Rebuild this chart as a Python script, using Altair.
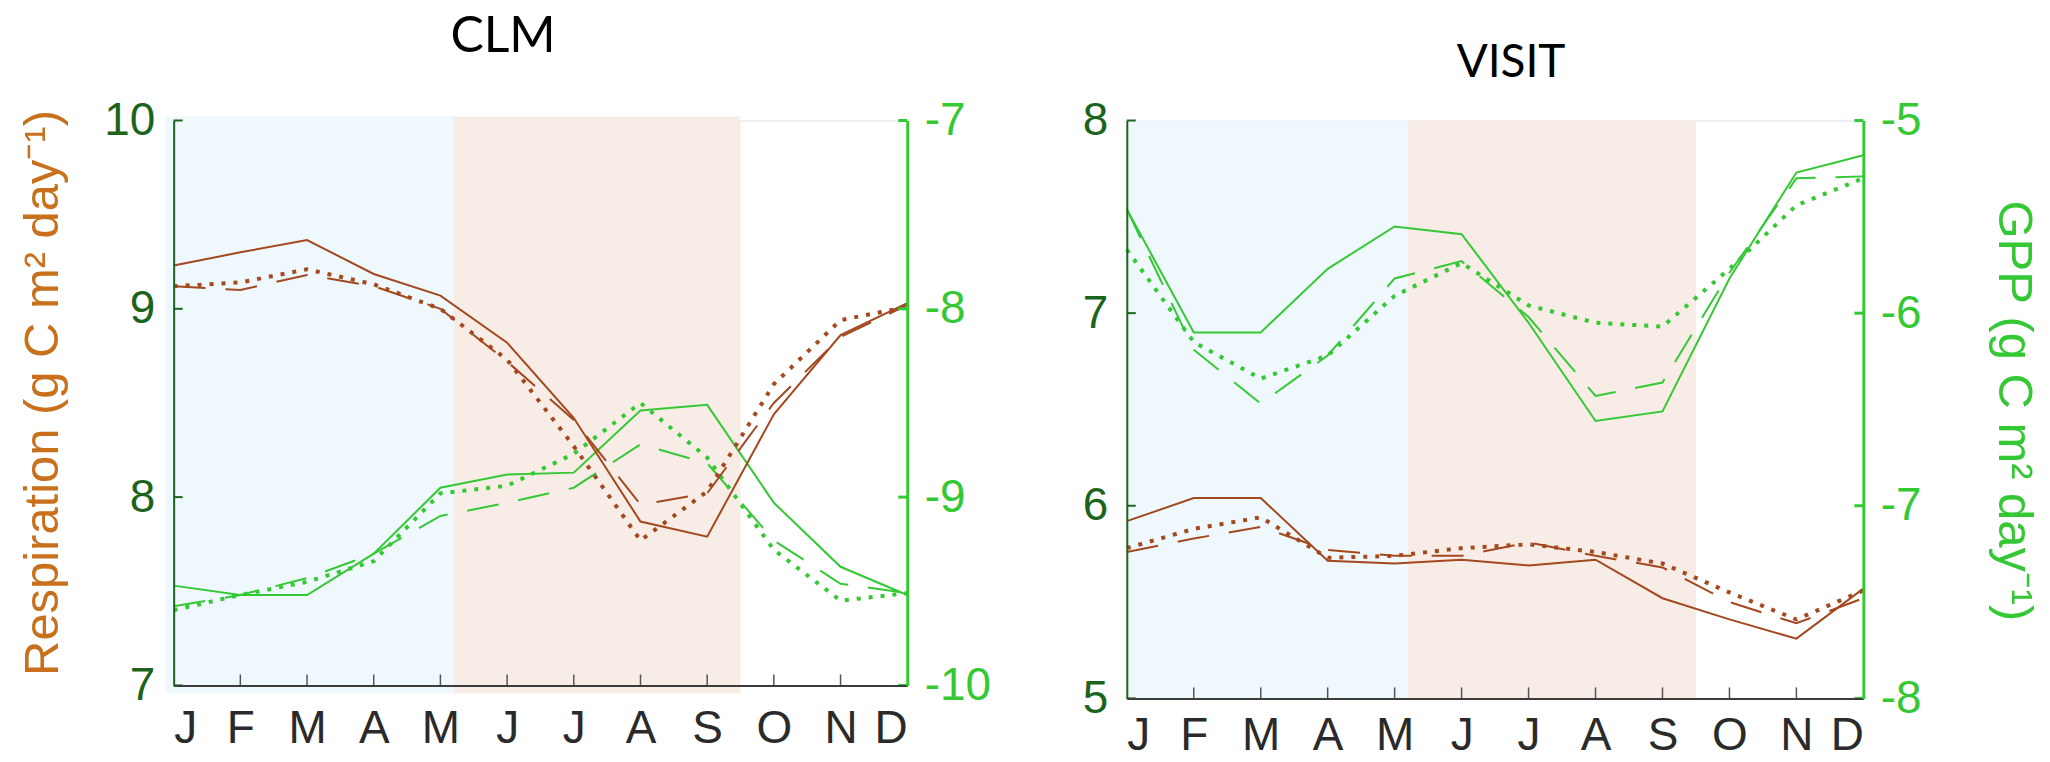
import altair as alt
import pandas as pd

# ---- data -------------------------------------------------------------
month_letters = ["J", "F", "M", "A", "M", "J", "J", "A", "S", "O", "N", "D"]
month_idx = list(range(12))

# CLM: respiration (left axis) and GPP (right axis), three runs each
clm_resp_solid = [9.23, 9.30, 9.365, 9.185, 9.07, 8.82, 8.42, 7.87, 7.79, 8.44, 8.86, 9.03]
clm_resp_dashed = [9.12, 9.10, 9.18, 9.12, 9.00, 8.72, 8.41, 7.96, 8.02, 8.50, 8.85, 9.02]
clm_resp_dotted = [9.12, 9.14, 9.21, 9.13, 9.00, 8.73, 8.27, 7.77, 8.03, 8.60, 8.94, 9.01]
clm_gpp_solid = [-9.47, -9.52, -9.52, -9.30, -8.95, -8.88, -8.87, -8.54, -8.51, -9.03, -9.37, -9.52]
clm_gpp_dashed = [-9.58, -9.52, -9.43, -9.30, -9.10, -9.03, -8.95, -8.72, -8.82, -9.23, -9.46, -9.51]
clm_gpp_dotted = [-9.60, -9.52, -9.45, -9.34, -8.98, -8.94, -8.77, -8.50, -8.79, -9.28, -9.55, -9.51]

# VISIT
visit_resp_solid = [5.92, 6.04, 6.04, 5.715, 5.70, 5.72, 5.69, 5.72, 5.52, 5.41, 5.31, 5.57]
visit_resp_dashed = [5.76, 5.83, 5.89, 5.77, 5.74, 5.74, 5.81, 5.74, 5.68, 5.50, 5.39, 5.52]
visit_resp_dotted = [5.78, 5.88, 5.94, 5.73, 5.74, 5.78, 5.80, 5.76, 5.70, 5.55, 5.41, 5.56]
visit_gpp_solid = [-5.46, -6.10, -6.10, -5.77, -5.55, -5.59, -6.05, -6.56, -6.51, -5.82, -5.27, -5.18]
visit_gpp_dashed = [-5.46, -6.19, -6.47, -6.22, -5.82, -5.73, -6.02, -6.43, -6.36, -5.79, -5.30, -5.29]
visit_gpp_dotted = [-5.67, -6.15, -6.34, -6.22, -5.91, -5.74, -5.96, -6.05, -6.07, -5.77, -5.44, -5.30]

# seasonal shading (month index units)
season_names = ["wet", "dry"]
season_start = [0.0, 4.2]
season_end = [4.2, 8.5]
season_colors = ["#eff8fc", "#f8ede6"]

# ---- styling ----------------------------------------------------------
FONT = "Liberation Sans Narrow, Arial Narrow, Liberation Sans, Arial, sans-serif"
TITLE_FONT = "Lato, Open Sans, sans-serif"
BROWN = "#a3481f"
GREEN = "#35c835"
DARK_GREEN = "#1c641c"
RESP_TITLE = "#c8701c"
AXIS_GRAY = "#3c3c3c"
TICK_FS = 46

label_expr = "[" + ",".join("'%s'" % m for m in month_letters) + "][datum.value]"
num_expr = "'' + datum.value"


def panel(title, title_xy, title_size, resp, gpp, resp_dom, gpp_dom, resp_ticks, gpp_ticks,
          width, height, left, top, bounds_x, shade_pad, resp_title=None, gpp_title=None,
          xlabel_pad=20):
    lines = pd.DataFrame({
        "m": month_idx,
        "r0": resp[0], "r1": resp[1], "r2": resp[2],
        "g0": gpp[0], "g1": gpp[1], "g2": gpp[2],
    })
    rscale = alt.Scale(domain=resp_dom, nice=False, zero=False)
    gscale = alt.Scale(domain=gpp_dom, nice=False, zero=False)
    xscale = alt.Scale(domain=[0, 11], nice=False, zero=False)

    xaxis = alt.Axis(values=month_idx, labelExpr=label_expr, title=None, grid=False,
                     ticks=False, tickSize=0, domainColor=AXIS_GRAY, domainWidth=2,
                     labelColor="#2a2a2a", labelFontSize=TICK_FS, labelFont=FONT,
                     labelPadding=xlabel_pad, zindex=1)

    shade_df = pd.DataFrame({"s": season_names, "a": season_start, "b": season_end})
    shade_df.loc[0, "a"] = shade_df.loc[0, "a"] - shade_pad
    shade = alt.Chart(shade_df).mark_rect().encode(
        x=alt.X("a:Q", scale=xscale, axis=xaxis),
        x2="b:Q",
        y=alt.value(-4 if shade_pad > 0 else 0),
        y2=alt.value(height + (8 if shade_pad > 0 else 0)),
        color=alt.Color("s:N", scale=alt.Scale(domain=season_names, range=season_colors), legend=None),
    )

    styles = [
        dict(strokeWidth=2),
        dict(strokeWidth=2, strokeDash=[32, 20]),
        dict(strokeWidth=4, strokeDash=[4, 8]),
    ]

    layers = [shade]
    for i, st in enumerate(styles):
        ax = None
        if i == 0:
            ax = alt.Axis(orient="right", values=gpp_ticks, labelExpr=num_expr, title=None, grid=False,
                          ticks=False, tickSize=0, domainColor=GREEN, domainWidth=3, labelColor=GREEN,
                          labelFontSize=TICK_FS, labelFont=FONT, labelPadding=17, zindex=1)
        layers.append(alt.Chart(lines).mark_line(color=GREEN, **st).encode(
            x=alt.X("m:Q", scale=xscale),
            y=alt.Y("g%d:Q" % i, scale=gscale, axis=ax),
        ))
    for i, st in enumerate(styles):
        ax = None
        if i == 0:
            ax = alt.Axis(orient="left", values=resp_ticks, labelExpr=num_expr, title=None, grid=False,
                          ticks=False, tickSize=0, domainColor=DARK_GREEN, domainWidth=2,
                          labelColor=DARK_GREEN, labelFontSize=TICK_FS, labelFont=FONT,
                          labelPadding=19, zindex=1)
        layers.append(alt.Chart(lines).mark_line(color=BROWN, **st).encode(
            x=alt.X("m:Q", scale=xscale),
            y=alt.Y("r%d:Q" % i, scale=rscale, axis=ax),
        ))

    # inward tick marks
    rt = pd.DataFrame({"v": resp_ticks})
    gt = pd.DataFrame({"v": gpp_ticks})
    mt = pd.DataFrame({"m": month_idx[1:-1]})
    layers.append(alt.Chart(rt).mark_rule(color=DARK_GREEN, strokeWidth=2).encode(
        y=alt.Y("v:Q", scale=rscale, axis=None), x=alt.value(0), x2=alt.value(9)))
    layers.append(alt.Chart(gt).mark_rule(color=GREEN, strokeWidth=3).encode(
        y=alt.Y("v:Q", scale=gscale, axis=None), x=alt.value(width - 9), x2=alt.value(width)))
    layers.append(alt.Chart(mt).mark_rule(color="#555555", strokeWidth=1.5).encode(
        x=alt.X("m:Q", scale=xscale), y=alt.value(height), y2=alt.value(height - 11)))

    one = pd.DataFrame({"k": [0]})
    # panel title
    layers.append(alt.Chart(one).mark_text(text=title, font=TITLE_FONT, fontSize=title_size,
                                           color="black", align="center", baseline="middle").encode(
        x=alt.value(title_xy[0]), y=alt.value(title_xy[1])))
    if resp_title:
        layers.append(alt.Chart(one).mark_text(text=resp_title[0], font=FONT, fontSize=49, angle=270,
                                               color=RESP_TITLE, align="center", baseline="middle").encode(
            x=alt.value(resp_title[1]), y=alt.value(resp_title[2])))
    if gpp_title:
        layers.append(alt.Chart(one).mark_text(text=gpp_title[0], font=FONT, fontSize=49, angle=90,
                                               color=GREEN, align="center", baseline="middle").encode(
            x=alt.value(gpp_title[1]), y=alt.value(gpp_title[2])))
    # invisible frame fixing the panel's extent on the page
    layers.append(alt.Chart(one).mark_rule(opacity=0).encode(
        x=alt.value(bounds_x[0] - left), x2=alt.value(bounds_x[1] - left),
        y=alt.value(-top), y2=alt.value(762 - top)))

    return alt.layer(*layers).resolve_scale(y="independent", color="independent").properties(
        width=width, height=height)


left_panel = panel(
    "CLM", (330, -84), 50,
    [clm_resp_solid, clm_resp_dashed, clm_resp_dotted],
    [clm_gpp_solid, clm_gpp_dashed, clm_gpp_dotted],
    [7, 10], [-10, -7], [7, 8, 9, 10], [-10, -9, -8, -7],
    width=735, height=566, left=173, top=119, bounds_x=(0, 1030), shade_pad=0.12,
    resp_title=("Respiration (g C m\u00b2 day\u207b\u00b9)", -131, 273),
    xlabel_pad=21,
)

right_panel = panel(
    "VISIT", (385, -58), 46,
    [visit_resp_solid, visit_resp_dashed, visit_resp_dotted],
    [visit_gpp_solid, visit_gpp_dashed, visit_gpp_dotted],
    [5, 8], [-8, -5], [5, 6, 7, 8], [-8, -7, -6, -5],
    width=738, height=579, left=1126, top=114, bounds_x=(1030, 2050), shade_pad=0.0,
    gpp_title=("GPP (g C m\u00b2 day\u207b\u00b9)", 889, 291),
    xlabel_pad=15,
)

chart = alt.hconcat(left_panel, right_panel, spacing=0).properties(padding=0).configure_view(
    stroke=None).configure(font=FONT)

chart.save("out.html", embed_options={"renderer": "svg", "actions": False})
